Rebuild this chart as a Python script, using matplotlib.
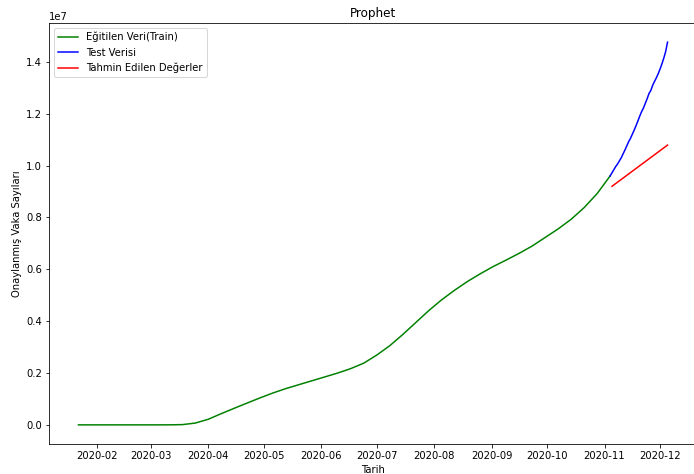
import matplotlib
matplotlib.use('Agg')
import matplotlib.pyplot as plt
import pandas as pd

# weekly cumulative confirmed cases (train part)
train_dates = pd.date_range("2020-01-22", "2020-11-04", freq="7D")
train_cases = [1, 5, 12, 13, 15, 60, 150, 1300, 9000, 68000,
               214000, 430000, 637000, 840000, 1040000, 1230000, 1400000,
               1550000, 1700000, 1850000, 2000000, 2170000, 2380000,
               2690000, 3050000, 3480000, 3940000, 4400000, 4820000,
               5190000, 5530000, 5830000, 6110000, 6360000, 6620000,
               6900000, 7230000, 7560000, 7930000, 8380000, 8920000,
               9600000]

# daily test period
test_dates = pd.date_range("2020-11-04", "2020-12-05", freq="D")
test_cases = [9600000, 9720000, 9840000, 9960000, 10060000, 10180000,
              10300000, 10450000, 10600000, 10760000, 10920000, 11050000,
              11210000, 11370000, 11540000, 11720000, 11910000, 12080000,
              12220000, 12400000, 12580000, 12780000, 12900000, 13100000,
              13250000, 13390000, 13550000, 13730000, 13930000, 14150000,
              14400000, 14760000]

# prophet forecast
pred_dates = pd.date_range("2020-11-05", "2020-12-05", freq="D")
pred_cases = [9200000, 9253000, 9306000, 9359000, 9412000, 9465000,
              9518000, 9571000, 9624000, 9677000, 9730000, 9783000,
              9836000, 9889000, 9942000, 9995000, 10048000, 10101000,
              10154000, 10207000, 10260000, 10313000, 10366000, 10419000,
              10472000, 10525000, 10578000, 10631000, 10684000, 10737000,
              10790000]

fig = plt.figure(figsize=(694 / 72, 474 / 72), dpi=72)
# right spine sits just outside the picture, as in the cropped original
ax = fig.add_axes([49 / 694, 30 / 474, 648 / 694, 421 / 474])

ax.plot(train_dates, train_cases, color='green', label='Eğitilen Veri(Train)')
ax.plot(test_dates, test_cases, color='blue', label='Test Verisi')
ax.plot(pred_dates, pred_cases, color='red', label='Tahmin Edilen Değerler')

ax.set_title("Prophet")
ax.set_xlabel("Tarih")
ax.set_ylabel("Onaylanmış Vaka Sayıları")
ax.legend(loc='upper left')

fig.savefig("out.png", dpi=72)
